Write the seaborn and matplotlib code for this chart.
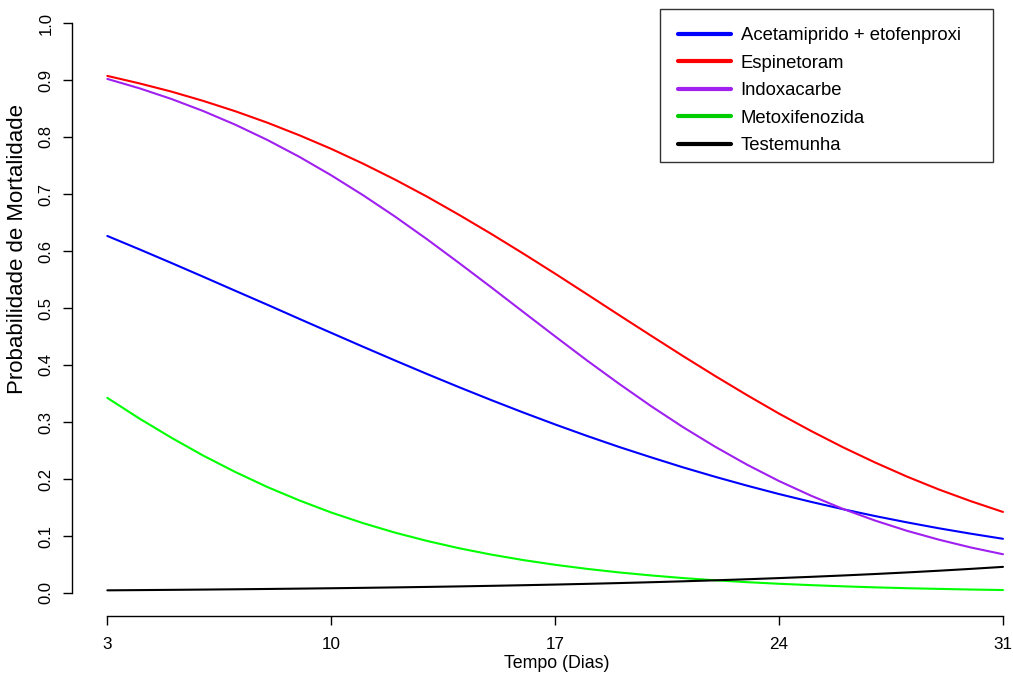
import matplotlib
matplotlib.use("Agg")
import matplotlib.pyplot as plt
import seaborn as sns
import pandas as pd
from matplotlib.lines import Line2D
from matplotlib.patches import Rectangle

# ---- data ----
dias = list(range(3, 32))

acetamiprido = [0.6264, 0.6030, 0.5791, 0.5548, 0.5302, 0.5058, 0.4810, 0.4564, 0.4319, 0.4078,
                0.3841, 0.3610, 0.3385, 0.3167, 0.2957, 0.2755, 0.2562, 0.2380, 0.2204, 0.2039,
                0.1883, 0.1736, 0.1599, 0.1470, 0.1350, 0.1239, 0.1135, 0.1040, 0.0951]
espinetoram = [0.9072, 0.8941, 0.8797, 0.8633, 0.8452, 0.8252, 0.8031, 0.7792, 0.7531, 0.7251,
               0.6952, 0.6633, 0.6301, 0.5956, 0.5602, 0.5240, 0.4875, 0.4514, 0.4156, 0.3808,
               0.3471, 0.3147, 0.2843, 0.2556, 0.2290, 0.2042, 0.1815, 0.1610, 0.1422]
indoxacarbe = [0.9019, 0.8855, 0.8668, 0.8455, 0.8216, 0.7949, 0.7653, 0.7328, 0.6977, 0.6602,
               0.6204, 0.5788, 0.5364, 0.4932, 0.4502, 0.4078, 0.3670, 0.3278, 0.2909, 0.2567,
               0.2251, 0.1964, 0.1707, 0.1475, 0.1271, 0.1091, 0.0935, 0.0798, 0.0680]
metoxifenozida = [0.3423, 0.3062, 0.2725, 0.2410, 0.2123, 0.1860, 0.1625, 0.1412, 0.1225, 0.1058,
                  0.0913, 0.0785, 0.0674, 0.0578, 0.0495, 0.0423, 0.0361, 0.0308, 0.0262, 0.0223,
                  0.0190, 0.0162, 0.0138, 0.0117, 0.0099, 0.0084, 0.0072, 0.0061, 0.0052]
testemunha = [0.00468, 0.00508, 0.00552, 0.00600, 0.00651, 0.00707, 0.00767, 0.00833, 0.00905, 0.00982,
              0.01067, 0.01158, 0.01257, 0.01364, 0.01480, 0.01606, 0.01743, 0.01891, 0.02051, 0.02225,
              0.02413, 0.02616, 0.02836, 0.03074, 0.03331, 0.03609, 0.03910, 0.04234, 0.04584]

tratamentos = ["Acetamiprido + etofenproxi", "Espinetoram", "Indoxacarbe", "Metoxifenozida", "Testemunha"]
line_colors = ["#0000FF", "#FF0000", "#A020F0", "#00FF00", "#000000"]
legend_colors = ["#0000FF", "#FF0000", "#A020F0", "#00CD00", "#000000"]
x_ticks = [3, 10, 17, 24, 31]
y_ticks = [0.0, 0.1, 0.2, 0.3, 0.4, 0.5, 0.6, 0.7, 0.8, 0.9, 1.0]

series = [acetamiprido, espinetoram, indoxacarbe, metoxifenozida, testemunha]
rows = []
for nome, vals in zip(tratamentos, series):
    for d, v in zip(dias, vals):
        rows.append({"Dias": d, "Prob": v, "Tratamento": nome})
df = pd.DataFrame(rows)

# ---- plot ----
sns.set_style("white")
plt.rcParams["font.family"] = ["Liberation Sans", "DejaVu Sans"]

W, H = 1013, 673
fig = plt.figure(figsize=(W / 100, H / 100), dpi=100)
left_px, right_px, top_px, bottom_px = 71.5, 1038.8, 0.2, 615.8
ax = fig.add_axes([left_px / W, 1 - bottom_px / H, (right_px - left_px) / W, (bottom_px - top_px) / H])

sns.lineplot(data=df, x="Dias", y="Prob", hue="Tratamento", hue_order=tratamentos,
             palette=dict(zip(tratamentos, line_colors)), linewidth=1.5, ax=ax, legend=False)

ax.set_xlim(1.88, 32.12)
ax.set_ylim(-0.04, 1.04)
ax.set_xticks(x_ticks)
ax.set_xticklabels([str(t) for t in x_ticks], fontsize=12.3)
ax.set_yticks(y_ticks)
ax.set_yticklabels([f"{t:.1f}" for t in y_ticks], fontsize=12, rotation=90, va="center")
ax.tick_params(axis="both", which="major", bottom=True, left=True, direction="out",
               length=6.5, width=1, color="#000000", labelcolor="#000000")
ax.tick_params(axis="x", pad=9.0)
ax.tick_params(axis="y", pad=6.5)

for s in ["top", "right"]:
    ax.spines[s].set_visible(False)
for s in ["left", "bottom"]:
    ax.spines[s].set_color("#000000")
    ax.spines[s].set_linewidth(1)
ax.spines["left"].set_bounds(0, 1)
ax.spines["bottom"].set_bounds(3, 31)

ax.set_xlabel("Tempo (Dias)", fontsize=12.8, color="#000000")
ax.xaxis.set_label_coords((557 - left_px) / (right_px - left_px), (bottom_px - 655) / (bottom_px - top_px))
ax.set_ylabel("")
fig.text(18 / W, 1 - 248.5 / H, "Probabilidade de Mortalidade", rotation=90,
         ha="center", va="center", fontsize=16.0, color="#000000")

# legend frame (drawn separately to match the reference box)
box = Rectangle((660 / W, 1 - 162 / H), (993 - 660) / W, (162 - 8.5) / H, transform=fig.transFigure,
                facecolor="white", edgecolor="#333333", linewidth=1, zorder=5, clip_on=False)
ax.add_patch(box)

handles = [Line2D([0], [0], color=c, linewidth=3.0) for c in legend_colors]
leg = ax.legend(handles, tratamentos, loc="upper left",
                bbox_to_anchor=((659 - left_px) / (right_px - left_px), (bottom_px - 8.5) / (bottom_px - top_px)),
                fontsize=13.3, frameon=False,
                borderpad=1.02, labelspacing=0.57, handlelength=2.9, handletextpad=0.5,
                borderaxespad=0)
leg.set_zorder(10)
for t in leg.get_texts():
    t.set_color("#000000")

fig.savefig("out.png", dpi=100, facecolor="white")
